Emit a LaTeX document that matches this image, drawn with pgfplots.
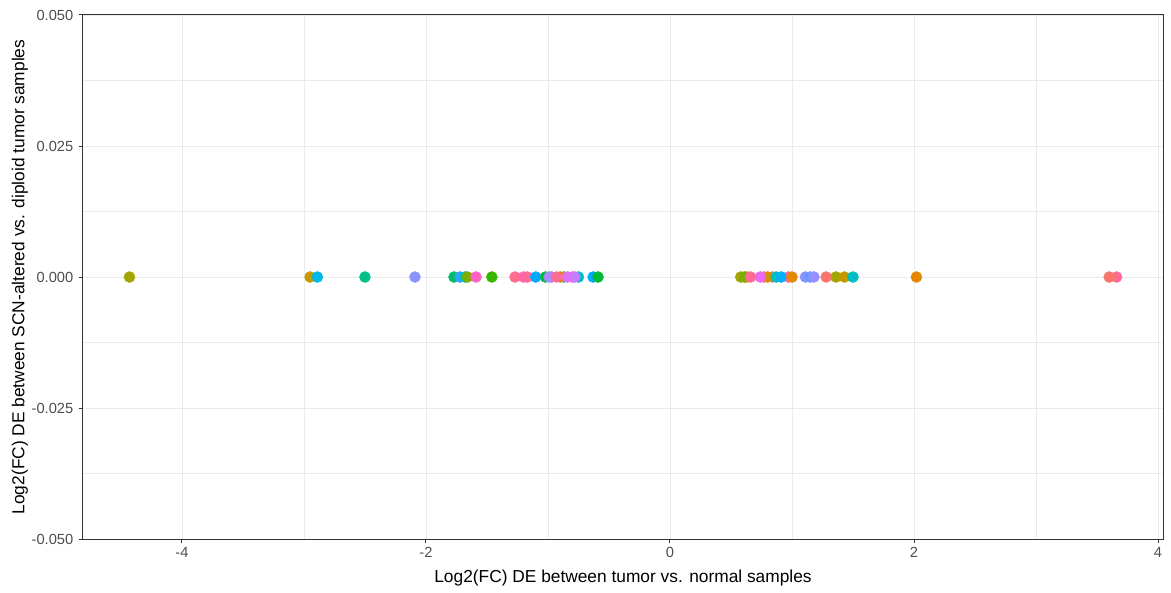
\documentclass[border=0pt]{standalone}
\usepackage{fontspec}
\setmainfont{Liberation Sans}
\usepackage{pgfplots}
\pgfplotsset{compat=1.18}
\definecolor{gridc}{HTML}{EBEBEB}
\definecolor{bordc}{HTML}{333333}
\definecolor{tickc}{HTML}{4D4D4D}
\definecolor{olive}{HTML}{A3A500}
\definecolor{dyel}{HTML}{C49A00}
\definecolor{cyan1}{HTML}{00B8E7}
\definecolor{teal1}{HTML}{00C08B}
\definecolor{peri}{HTML}{8B93FF}
\definecolor{grn1}{HTML}{00BE67}
\definecolor{blu1}{HTML}{35A2FF}
\definecolor{teal2}{HTML}{00BFC4}
\definecolor{grn2}{HTML}{7CAE00}
\definecolor{pink1}{HTML}{FF61C3}
\definecolor{grn3}{HTML}{39B600}
\definecolor{pink2}{HTML}{FF6C91}
\definecolor{pink3}{HTML}{FF62BC}
\definecolor{pink4}{HTML}{FF6A98}
\definecolor{blu2}{HTML}{00A9FF}
\definecolor{grn4}{HTML}{00BA38}
\definecolor{purp1}{HTML}{AC88FF}
\definecolor{orng1}{HTML}{D89000}
\definecolor{mag1}{HTML}{E76BF3}
\definecolor{purp2}{HTML}{C77CFF}
\definecolor{teal3}{HTML}{00C0B8}
\definecolor{blu3}{HTML}{00B0F6}
\definecolor{orng2}{HTML}{E58700}
\definecolor{blu4}{HTML}{619CFF}
\definecolor{peri2}{HTML}{9590FF}
\definecolor{salm}{HTML}{F8766D}

\begin{document}
\begin{tikzpicture}
\begin{axis}[
  scale only axis, width=810pt, height=393pt,
  xmin=-4.811, xmax=4.041, ymin=-0.05, ymax=0.05,
  xtick={-4,-2,0,2,4}, xticklabels={-4,-2,0,2,4},
  ytick={-0.05,-0.025,0,0.025,0.05},
  yticklabels={-0.050,-0.025,0.000,0.025,0.050},
  minor xtick={-3,-1,1,3},
  minor ytick={-0.0375,-0.0125,0.0125,0.0375},
  grid=both,
  major grid style={color=gridc, line width=0.6pt},
  minor grid style={color=gridc, line width=0.35pt},
  axis line style={color=bordc, line width=0.75pt},
  tick align=outside, major tick length=2.75pt, minor tick length=0pt,
  tick style={color=bordc, line width=0.75pt},
  xtick pos=left, ytick pos=left,
  ticklabel style={font=\fontsize{11}{13}\selectfont, text=tickc},
  yticklabel style={xshift=-1pt},
  label style={font=\fontsize{13}{15}\selectfont, text=black},
  xlabel={Log2(FC) DE between tumor vs. normal samples},
  ylabel={Log2(FC) DE between SCN-altered vs. diploid tumor samples},
  xlabel style={at={([yshift=-29pt]rel axis cs:0.5,0)}, anchor=center},
  ylabel style={at={([xshift=-47.25pt]rel axis cs:0,0.5)}, anchor=center},
  clip=false,
  every axis plot/.append style={only marks, mark=*, mark size=4.1pt},
]
\addplot[olive] coordinates {(-4.43,0) (0.58,0) (1.36,0)};
\addplot[dyel] coordinates {(-2.95,0) (0.63,0) (1.43,0)};
\addplot[cyan1] coordinates {(-2.89,0)};
\addplot[teal1] coordinates {(-2.50,0) (-0.87,0)};
\addplot[peri] coordinates {(-2.09,0) (-0.97,0) (1.11,0)};
\addplot[grn1] coordinates {(-1.77,0)};
\addplot[blu1] coordinates {(-1.72,0)};
\addplot[teal2] coordinates {(-1.68,0) (-0.75,0) (1.50,0)};
\addplot[grn2] coordinates {(-1.66,0) (0.61,0)};
\addplot[pink1] coordinates {(-1.59,0) (-0.80,0) (0.77,0)};
\addplot[grn3] coordinates {(-1.46,0)};
\addplot[pink3] coordinates {(-1.20,0) (0.97,0)};
\addplot[pink4] coordinates {(-1.17,0) (0.84,0)};
\addplot[blu2] coordinates {(-1.10,0) (-0.63,0)};
\addplot[grn4] coordinates {(-1.02,0) (-0.59,0)};
\addplot[purp1] coordinates {(-0.99,0)};
\addplot[orng1] coordinates {(-0.90,0) (0.80,0)};
\addplot[mag1] coordinates {(-0.84,0) (0.74,0)};
\addplot[purp2] coordinates {(-0.78,0)};
\addplot[pink2] coordinates {(-1.27,0) (-0.93,0) (0.66,0) (3.66,0)};
\addplot[teal3] coordinates {(0.87,0)};
\addplot[blu3] coordinates {(0.91,0)};
\addplot[orng2] coordinates {(1.00,0) (2.02,0)};
\addplot[blu4] coordinates {(1.15,0)};
\addplot[peri2] coordinates {(1.18,0)};
\addplot[salm] coordinates {(1.28,0) (3.60,0)};
\coordinate (SW) at (rel axis cs:0,0);
\coordinate (NE) at (rel axis cs:1,1);
\end{axis}
\pgfresetboundingbox
\path (SW) ++(-62.25pt,-39.75pt) rectangle ([shift={(6pt,11.25pt)}]NE);
\end{tikzpicture}
\end{document}
